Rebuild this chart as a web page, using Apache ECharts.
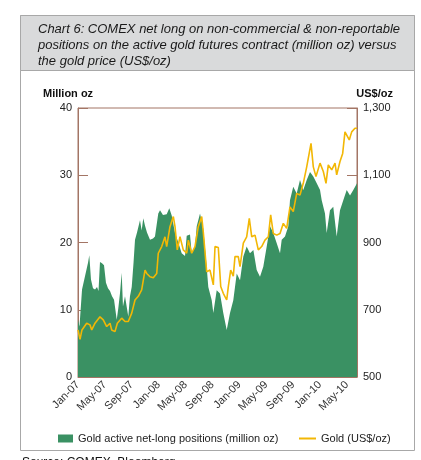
<!DOCTYPE html>
<html>
<head>
<meta charset="utf-8">
<script src="https://cdn.jsdelivr.net/npm/echarts@6/dist/echarts.min.js"></script>
<style>
html,body{margin:0;padding:0;background:#fff;}
#chart{width:421px;height:460px;}
</style>
</head>
<body>
<div id="chart"></div>
<script>
// months since 1 Jan 2007
var netMonths = [0.00,0.22,0.60,1.04,1.49,1.68,1.93,2.23,2.53,2.83,3.05,3.27,3.57,3.87,4.16,4.46,4.76,5.06,5.36,5.76,5.99,6.25,6.50,6.69,6.99,7.24,7.48,7.73,7.99,8.26,8.48,8.78,9.22,9.47,9.71,9.97,10.26,10.71,11.16,11.45,11.94,12.20,12.64,13.19,13.58,13.94,14.43,14.92,15.42,15.92,16.17,16.66,16.91,17.40,17.66,18.15,18.64,19.14,19.38,19.89,20.13,20.63,21.12,21.61,22.12,22.61,23.10,23.61,24.10,24.59,25.09,25.58,26.08,26.58,27.07,27.56,28.07,28.56,29.05,29.56,30.05,30.30,30.79,31.28,31.53,32.02,32.53,33.02,33.51,34.02,34.51,35.00,35.51,36.00,36.25,36.74,36.99,37.48,37.97,38.48,38.97,39.46,39.97,40.46,40.95,41.50];
var netLong = [8.5,7.5,13.0,15.0,17.0,18.1,14.5,13.2,13.0,13.4,12.8,17.1,16.9,16.6,14.0,13.2,12.8,12.0,11.5,8.5,10.2,12.5,15.5,10.5,12.0,11.9,9.0,12.0,13.4,17.0,20.4,21.5,23.3,21.8,23.6,22.5,21.5,20.4,20.6,20.9,24.3,24.8,24.1,24.2,25.1,24.0,21.4,20.0,18.4,18.0,21.0,21.2,18.4,19.4,22.4,24.3,22.0,16.4,13.4,11.4,9.5,12.9,12.4,9.5,7.0,9.5,11.4,15.4,14.4,17.9,19.4,18.4,18.9,15.9,14.9,16.4,19.4,22.4,21.4,19.9,18.4,20.4,20.9,22.4,26.3,28.3,27.3,29.3,27.8,29.3,30.5,29.8,28.8,27.8,26.3,24.3,21.4,24.8,25.3,20.9,24.8,26.3,27.8,27.0,27.8,28.8];

var goldMonths = [0.00,0.30,0.59,1.29,1.78,2.04,2.53,3.27,3.76,4.27,4.76,5.01,5.50,5.85,6.50,6.99,7.48,7.99,8.48,8.97,9.47,9.97,10.22,10.71,11.20,11.71,11.94,12.45,12.94,13.19,13.68,14.18,14.43,14.77,15.17,15.66,16.17,16.41,16.91,17.40,17.89,18.40,18.64,19.14,19.63,20.13,20.38,20.87,21.23,21.61,22.12,22.36,22.71,23.10,23.35,23.84,24.10,24.59,25.09,25.48,25.84,26.33,26.82,27.32,27.81,28.31,28.66,29.05,29.56,30.05,30.54,31.04,31.53,32.02,32.53,33.02,33.51,34.02,34.66,35.00,35.40,36.00,36.49,36.89,37.23,37.74,38.23,38.48,38.97,39.37,39.71,40.35,40.71,41.20,41.50];
var goldPrice = [640,612,640,660,655,640,660,679,670,650,660,640,635,660,675,665,665,690,729,740,759,818,808,798,795,808,868,888,917,888,947,977,947,878,917,878,868,907,868,888,947,977,930,813,818,774,888,885,769,749,729,769,818,800,858,858,828,898,917,972,917,922,878,888,907,917,982,927,922,927,957,942,1006,992,1046,1041,1076,1125,1195,1125,1096,1136,1111,1076,1131,1116,1136,1101,1141,1165,1229,1205,1229,1240,1240];

var monthNames = ['Jan','Feb','Mar','Apr','May','Jun','Jul','Aug','Sep','Oct','Nov','Dec'];
var leftTicks = [0, 40, 10];
var rightTicks = [500, 1300, 200];

var titleLines = ['Chart 6: COMEX net long on non-commercial & non-reportable',
                  'positions on the active gold futures contract (million oz) versus',
                  'the gold price (US$/oz)'];
var netName = 'Gold active net-long positions (million oz)';
var goldName = 'Gold (US$/oz)';

function zip(a, b){ return a.map(function(v, i){ return [v, b[i]]; }); }

var FONT = '"Liberation Sans", Arial, sans-serif';
var brown = '#a37565';

var chart = echarts.init(document.getElementById('chart'), null, {renderer:'canvas'});
chart.setOption({
  animation: false,
  backgroundColor: '#fff',
  textStyle: {fontFamily: FONT},
  graphic: [
    {type:'rect', shape:{x:20.5, y:15.5, width:394, height:435}, style:{fill:'#fff', stroke:'#a8a8a8', lineWidth:1}, z:-10},
    {type:'rect', shape:{x:20.5, y:15.5, width:394, height:55}, style:{fill:'#d9dadb', stroke:'#a8a8a8', lineWidth:1}, z:-9},
    {type:'text', left:38, top:21, style:{text:titleLines.join('\n'), font:'italic 13px "Liberation Sans", Arial, sans-serif', fill:'#1a1a1a', lineHeight:16}, z:5},
    {type:'text', left:43, top:88, style:{text:'Million oz', font:'bold 11px "Liberation Sans", Arial, sans-serif', fill:'#111'}},
    {type:'text', right:28, top:88, style:{text:'US$/oz', font:'bold 11px "Liberation Sans", Arial, sans-serif', fill:'#111'}},
    {type:'text', left:22, top:457, style:{text:'Source: COMEX, Bloomberg', font:'12px "Liberation Sans", Arial, sans-serif', fill:'#111'}}
  ],
  grid: {left:78, right:64, top:108, bottom:83, show:true, borderColor:brown, borderWidth:1, backgroundColor:'#fff'},
  legend: [
    {data:[{name:netName, icon:'rect'}], left:53, top:428, itemWidth:15, itemHeight:8, itemGap:4,
     textStyle:{fontSize:11, color:'#222', fontFamily:FONT}, selectedMode:false},
    {data:[{name:goldName, icon:'rect'}], left:294, top:428, itemWidth:17, itemHeight:2,
     textStyle:{fontSize:11, color:'#222', fontFamily:FONT}, selectedMode:false}
  ],
  xAxis: {
    type:'value', min:0, max:41.5, interval:4,
    axisLine:{show:true, lineStyle:{color:brown}},
    axisTick:{show:false},
    splitLine:{show:false},
    axisLabel:{rotate:45, fontSize:11, color:'#333', margin:6, showMaxLabel:false,
      formatter:function(v){ var yy = 7 + Math.floor(v/12); return monthNames[v%12] + '-' + (yy<10?'0':'') + yy; }}
  },
  yAxis: [
    {type:'value', min:leftTicks[0], max:leftTicks[1], interval:leftTicks[2],
     axisLine:{show:true, lineStyle:{color:brown}},
     axisTick:{show:true, inside:true, length:10, lineStyle:{color:brown}},
     splitLine:{show:false},
     axisLabel:{fontSize:11, color:'#222', margin:6}},
    {type:'value', min:rightTicks[0], max:rightTicks[1], interval:rightTicks[2],
     axisLine:{show:true, lineStyle:{color:brown}},
     axisTick:{show:true, inside:true, length:10, lineStyle:{color:brown}},
     splitLine:{show:false},
     axisLabel:{fontSize:11, color:'#222', margin:6,
       formatter:function(v){ return v.toLocaleString('en-US'); }}}
  ],
  series: [
    {name:netName, type:'line', yAxisIndex:0, data:zip(netMonths, netLong), symbol:'none',
     lineStyle:{width:0, color:'#3a9163'}, itemStyle:{color:'#3a9163'},
     areaStyle:{color:'#3a9163', opacity:1}, z:2},
    {name:goldName, type:'line', yAxisIndex:1, data:zip(goldMonths, goldPrice), symbol:'none',
     lineStyle:{width:1.6, color:'#f2b705'}, itemStyle:{color:'#f2b705'}, z:3}
  ]
});
</script>
</body>
</html>
